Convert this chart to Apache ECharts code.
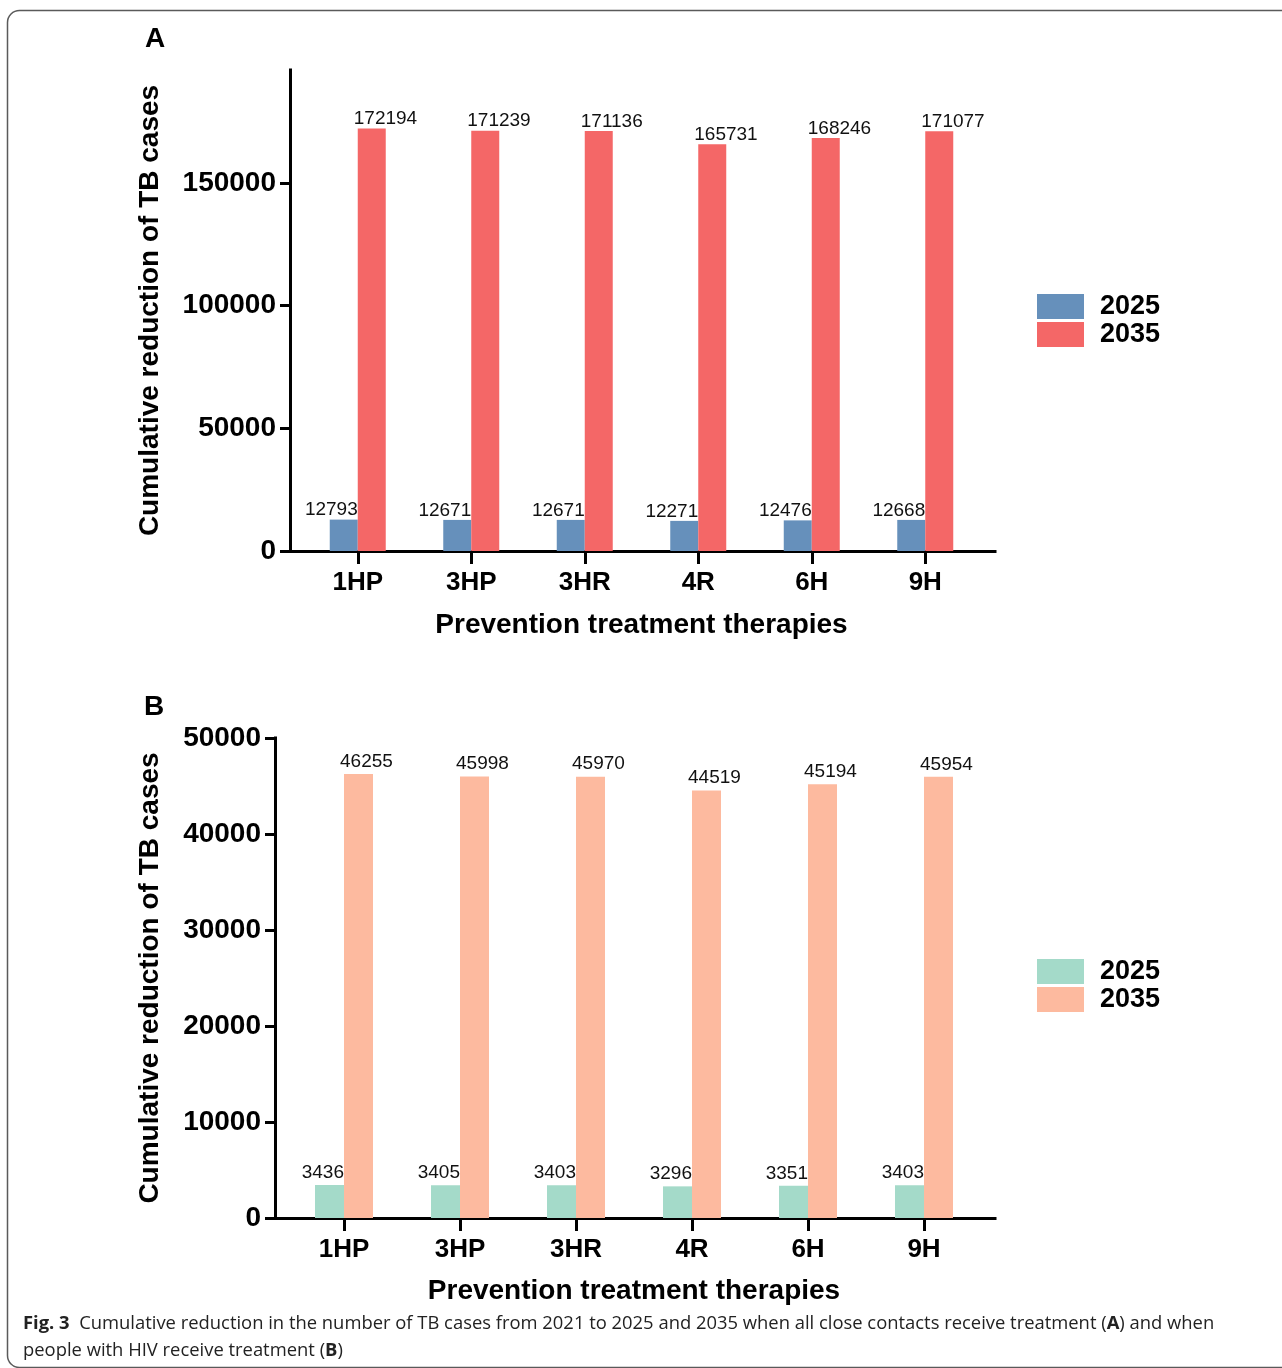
<!DOCTYPE html>
<html>
<head>
<meta charset="utf-8">
<style>
  html, body { margin: 0; padding: 0; background: #fff; }
  #chart { width: 1282px; height: 1368px; }
</style>
<script src="https://cdn.jsdelivr.net/npm/echarts@6/dist/echarts.min.js"></script>
</head>
<body>
<div id="chart"></div>
<script>
// Prevention regimens compared in both panels
const therapies = ['1HP', '3HP', '3HR', '4R', '6H', '9H'];

// Panel A: all close contacts treated
const contacts2025 = [12793, 12671, 12671, 12271, 12476, 12668];
const contacts2035 = [172194, 171239, 171136, 165731, 168246, 171077];
const ticksA = [0, 50000, 100000, 150000];

// Panel B: people with HIV treated
const hiv2025 = [3436, 3405, 3403, 3296, 3351, 3403];
const hiv2035 = [46255, 45998, 45970, 44519, 45194, 45954];
const ticksB = [0, 10000, 20000, 30000, 40000, 50000];

const years = ['2025', '2035'];

const FONT = '"Liberation Sans", Arial, sans-serif';
const colors = {
  a2025: '#6690bb', a2035: '#f46767',
  b2025: '#a4dac9', b2035: '#fdba9f'
};

function axisLineStyle() {
  return { show: true, lineStyle: { color: '#000', width: 3, cap: 'square' } };
}

function barSeries(name, data, color, xi, yi, width, leftSide, dist) {
  return {
    type: 'bar', name: name, data: data,
    xAxisIndex: xi, yAxisIndex: yi,
    barWidth: width, barGap: '0%',
    itemStyle: { color: color },
    emphasis: { disabled: true },
    label: {
      show: true, position: 'top', distance: dist,
      align: leftSide ? 'right' : 'left',
      offset: leftSide ? [width / 2, 0] : [-width / 2 - 4, 0],
      fontFamily: FONT, fontSize: 19, color: '#111'
    }
  };
}

const boldText = size => ({ fontFamily: FONT, fontWeight: 'bold', fontSize: size, color: '#000' });

function categoryAxis(gridIndex, nameGap) {
  return {
    gridIndex: gridIndex, type: 'category', data: therapies,
    axisLine: { show: false },
    axisTick: { show: true, alignWithLabel: true, length: 13, lineStyle: { color: '#000', width: 3 } },
    axisLabel: Object.assign({ margin: 19 }, boldText(26)),
    name: 'Prevention treatment therapies', nameLocation: 'middle', nameGap: nameGap,
    nameTextStyle: boldText(28)
  };
}

function frameXAxis(gridIndex) {
  return {
    gridIndex: gridIndex, type: 'value', min: 0, max: 1,
    axisLine: axisLineStyle(), axisTick: { show: false }, axisLabel: { show: false }, splitLine: { show: false }
  };
}

function valueAxis(gridIndex, max, ticks, nameGap) {
  return {
    gridIndex: gridIndex, type: 'value', min: 0, max: max,
    axisLine: axisLineStyle(),
    axisTick: { show: true, length: 10, customValues: ticks, lineStyle: { color: '#000', width: 3 } },
    axisLabel: Object.assign({ margin: 14, customValues: ticks, formatter: v => String(v) }, boldText(28)),
    splitLine: { show: false },
    name: 'Cumulative reduction of TB cases', nameLocation: 'middle', nameRotate: 90, nameGap: nameGap,
    nameTextStyle: boldText(28)
  };
}

function legendFor(names, top) {
  return {
    data: names, orient: 'vertical', left: 1037, top: top, padding: 0,
    itemWidth: 47, itemHeight: 25, itemGap: 1,
    icon: 'rect', selectedMode: false,
    formatter: n => n.slice(-4),
    textStyle: Object.assign({ padding: [0, 0, 0, 11] }, boldText(27))
  };
}

const namesA = years.map(y => 'Close contacts ' + y);
const namesB = years.map(y => 'People with HIV ' + y);

const chart = echarts.init(document.getElementById('chart'));

const option = {
  animation: false,
  backgroundColor: '#fff',
  grid: [
    { left: 301, width: 681, top: 70, height: 481, outerBoundsMode: 'none' },
    { left: 290, width: 705, top: 70, height: 481, outerBoundsMode: 'none' },
    { left: 286, width: 696, top: 738, height: 480, outerBoundsMode: 'none' },
    { left: 275, width: 720, top: 738, height: 480, outerBoundsMode: 'none' }
  ],
  xAxis: [categoryAxis(0, 60), frameXAxis(1), categoryAxis(2, 59), frameXAxis(3)],
  yAxis: [
    { gridIndex: 0, type: 'value', min: 0, max: 196000, show: false },
    valueAxis(1, 196000, ticksA, 126),
    { gridIndex: 2, type: 'value', min: 0, max: 50000, show: false },
    valueAxis(3, 50000, ticksB, 111)
  ],
  legend: [legendFor(namesA, 293), legendFor(namesB, 958)],
  series: [
    barSeries(namesA[0], contacts2025, colors.a2025, 0, 0, 28, true, 0),
    barSeries(namesA[1], contacts2035, colors.a2035, 0, 0, 28, false, 0),
    barSeries(namesB[0], hiv2025, colors.b2025, 2, 2, 29, true, 3),
    barSeries(namesB[1], hiv2035, colors.b2035, 2, 2, 29, false, 3)
  ],
  graphic: [
    {
      type: 'rect', silent: true,
      shape: { x: 7.5, y: 10.5, width: 1320, height: 1357, r: 12 },
      style: { fill: 'none', stroke: '#5a5a5a', lineWidth: 1.5 }
    },
    {
      type: 'text', left: 145, top: 25,
      style: { text: 'A', font: 'bold 28px "Liberation Sans", Arial, sans-serif', fill: '#000' }
    },
    {
      type: 'text', left: 144, top: 693,
      style: { text: 'B', font: 'bold 28px "Liberation Sans", Arial, sans-serif', fill: '#000' }
    },
    {
      type: 'text', left: 23, top: 1310,
      style: {
        text: '{b|Fig. 3}  Cumulative reduction in the number of TB cases from 2021 to 2025 and 2035 when all close contacts receive treatment ({b|A}) and when\npeople with HIV receive treatment ({b|B})',
        fontFamily: '"Open Sans", sans-serif', fontSize: 18.4, lineHeight: 27, fill: '#222',
        rich: {
          b: { fontFamily: '"Open Sans", sans-serif', fontSize: 18.4, fontWeight: 'bold', lineHeight: 27, fill: '#222' }
        }
      }
    }
  ]
};

chart.setOption(option);
</script>
</body>
</html>
